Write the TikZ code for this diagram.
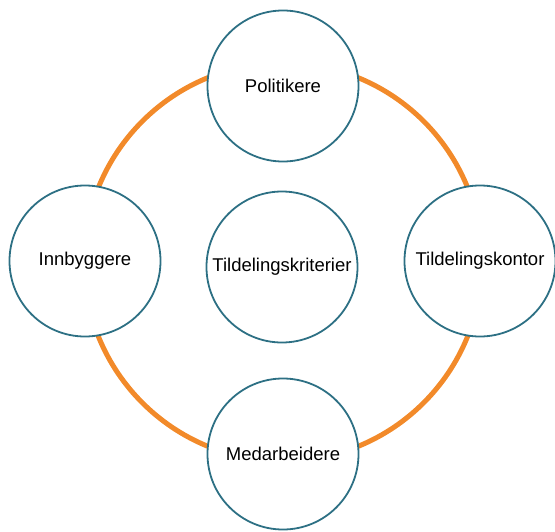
\documentclass[tikz,border=0pt]{standalone}
\usepackage{fontspec}
\setmainfont{Liberation Sans}
\usepackage{tikz}
\usetikzlibrary{positioning}
\definecolor{ringorange}{RGB}{242,138,42}
\definecolor{rimteal}{RGB}{45,112,132}

\begin{document}
\begin{tikzpicture}[
      x=1pt,y=-1pt,
      actor/.style={circle,draw=rimteal,fill=white,line width=1.8pt,
        minimum size=151pt,inner sep=0pt,
        font=\fontsize{18.5}{22}\selectfont},
      ring/.style={ringorange,line width=5pt}
    ]
      \useasboundingbox (0,0) rectangle (555,531);

      \draw[ring] (283,262) circle (199);

      \node[actor](pol) at (283,86) {Politikere};
      \node[actor](inn) at (85,261) {Innbyggere};
      \node[actor](kontor) at (480,261) {Tildelingskontor};
      \node[actor](med) at (283,454) {Medarbeidere};
      \node[actor](krit) at (282,267) {Tildelingskriterier};
    \end{tikzpicture}
\end{document}
